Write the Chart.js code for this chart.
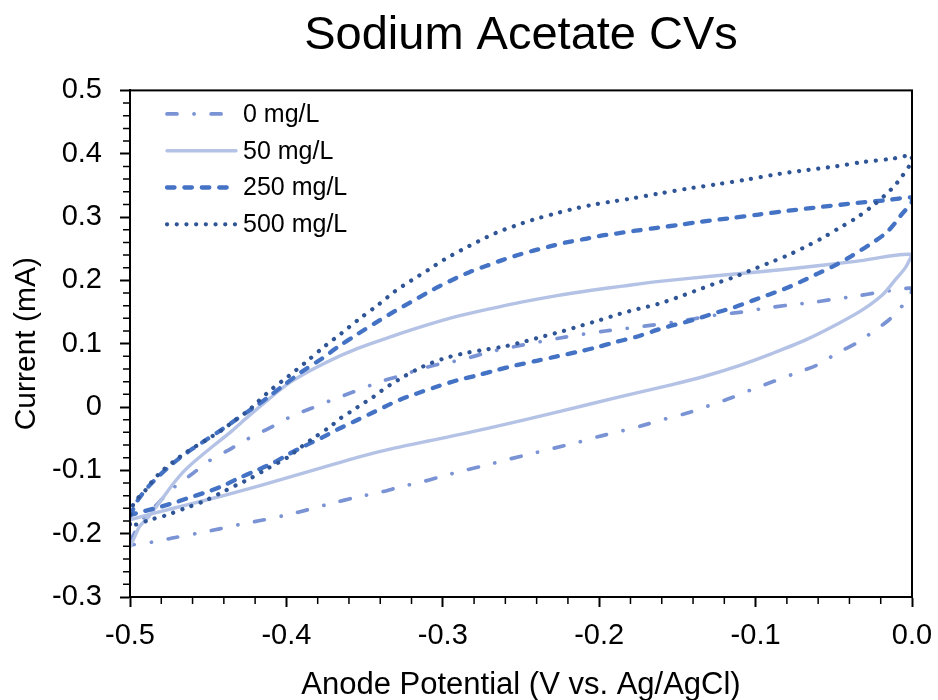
<!DOCTYPE html>
<html>
<head>
<meta charset="utf-8">
<title>Sodium Acetate CVs</title>
<script src="https://cdn.jsdelivr.net/npm/chart.js@4.4.1/dist/chart.umd.min.js"></script>
<style>
  html, body { margin: 0; padding: 0; background: #fff; }
  #wrap { width: 938px; height: 700px; }
</style>
</head>
<body>
<div id="wrap"><canvas id="cv" width="938" height="700"></canvas></div>
<script>
// Each loop: forward sweep -0.5 V -> 0 V, then the return sweep back to -0.5 V
const seriesNames = ['0 mg/L', '50 mg/L', '250 mg/L', '500 mg/L'];

// 0 mg/L
const potential0 = [
  -0.500, -0.495, -0.490, -0.484, -0.475, -0.469, -0.461, -0.450, -0.437, -0.426,
  -0.418, -0.409, -0.397, -0.384, -0.371, -0.357, -0.340, -0.329, -0.319, -0.310,
  -0.300, -0.293, -0.283, -0.270, -0.255, -0.238, -0.225, -0.210, -0.196, -0.152,
  -0.126, -0.109, -0.094, -0.079, -0.064, -0.051, -0.036, -0.019, -0.007, 0.000,
  -0.002, -0.009, -0.015, -0.024, -0.034, -0.048, -0.060, -0.075, -0.088, -0.103,
  -0.115, -0.130, -0.143, -0.158, -0.172, -0.186, -0.201, -0.214, -0.229, -0.242,
  -0.257, -0.271, -0.286, -0.300, -0.313, -0.327, -0.339, -0.356, -0.371, -0.386,
  -0.399, -0.414, -0.429, -0.442, -0.456, -0.471, -0.485, -0.500
];
const current0 = [
  -0.212, -0.190, -0.172, -0.157, -0.134, -0.121, -0.107, -0.086, -0.068, -0.052,
  -0.042, -0.031, -0.015, -0.002, 0.011, 0.024, 0.040, 0.048, 0.056, 0.063,
  0.069, 0.072, 0.078, 0.087, 0.095, 0.103, 0.109, 0.115, 0.120, 0.134,
  0.145, 0.150, 0.156, 0.161, 0.165, 0.170, 0.175, 0.182, 0.186, 0.187,
  0.171, 0.153, 0.137, 0.121, 0.103, 0.085, 0.067, 0.053, 0.041, 0.027,
  0.015, 0.002, -0.009, -0.019, -0.029, -0.038, -0.047, -0.056, -0.065, -0.073,
  -0.082, -0.091, -0.100, -0.109, -0.118, -0.126, -0.134, -0.143, -0.152, -0.162,
  -0.170, -0.178, -0.185, -0.192, -0.199, -0.206, -0.213, -0.218
];

// 50 mg/L
const potential50 = [
  -0.500, -0.497, -0.494, -0.489, -0.484, -0.478, -0.472, -0.465, -0.456, -0.446,
  -0.435, -0.424, -0.412, -0.397, -0.375, -0.354, -0.332, -0.312, -0.291, -0.270,
  -0.249, -0.227, -0.206, -0.185, -0.163, -0.122, -0.079, -0.036, 0.000,
  -0.004, -0.011, -0.019, -0.032, -0.047, -0.068, -0.090, -0.111, -0.132, -0.154,
  -0.187, -0.227, -0.270, -0.302, -0.331, -0.354, -0.375, -0.397, -0.418,
  -0.439, -0.461, -0.482, -0.500
];
const current50 = [
  -0.221, -0.205, -0.189, -0.176, -0.160, -0.140, -0.120, -0.100, -0.080, -0.060,
  -0.038, -0.014, 0.011, 0.040, 0.070, 0.093, 0.112, 0.128, 0.143, 0.155,
  0.166, 0.176, 0.184, 0.191, 0.198, 0.208, 0.218, 0.230, 0.241,
  0.221, 0.200, 0.177, 0.153, 0.132, 0.106, 0.084, 0.065, 0.049, 0.035,
  0.016, -0.008, -0.033, -0.050, -0.065, -0.079, -0.094, -0.110, -0.125,
  -0.139, -0.153, -0.166, -0.178
];

// 250 mg/L
const potential250 = [
  -0.500, -0.495, -0.488, -0.482, -0.473, -0.463, -0.452, -0.441, -0.430, -0.421,
  -0.412, -0.403, -0.390, -0.377, -0.367, -0.354, -0.341, -0.331, -0.321, -0.311,
  -0.302, -0.292, -0.283, -0.272, -0.262, -0.252, -0.242, -0.231, -0.221, -0.210,
  -0.200, -0.189, -0.178, -0.163, -0.148, -0.137, -0.117, -0.098, -0.079, -0.058,
  -0.036, -0.015, 0.000,
  0.000, -0.007, -0.011, -0.017, -0.028, -0.039, -0.049, -0.060, -0.071, -0.081,
  -0.092, -0.102, -0.113, -0.124, -0.134, -0.145, -0.156, -0.164, -0.176, -0.189,
  -0.202, -0.214, -0.227, -0.240, -0.253, -0.266, -0.278, -0.291, -0.304, -0.317,
  -0.327, -0.335, -0.345, -0.356, -0.367, -0.377, -0.388, -0.399, -0.409, -0.420,
  -0.431, -0.441, -0.452, -0.463, -0.473, -0.484, -0.495, -0.500
];
const current250 = [
  -0.172, -0.147, -0.125, -0.110, -0.090, -0.071, -0.053, -0.035, -0.016, -0.001,
  0.015, 0.032, 0.056, 0.077, 0.095, 0.116, 0.136, 0.151, 0.165, 0.179,
  0.191, 0.203, 0.213, 0.223, 0.232, 0.240, 0.247, 0.254, 0.260, 0.265,
  0.270, 0.274, 0.278, 0.283, 0.288, 0.292, 0.298, 0.304, 0.310, 0.316,
  0.322, 0.327, 0.331,
  0.324, 0.303, 0.290, 0.274, 0.255, 0.238, 0.224, 0.211, 0.198, 0.187,
  0.177, 0.168, 0.158, 0.150, 0.142, 0.134, 0.127, 0.121, 0.111, 0.103,
  0.094, 0.087, 0.080, 0.073, 0.066, 0.058, 0.050, 0.042, 0.032, 0.021,
  0.012, 0.003, -0.009, -0.022, -0.035, -0.048, -0.061, -0.075, -0.089, -0.101,
  -0.113, -0.125, -0.135, -0.144, -0.152, -0.160, -0.167, -0.171
];

// 500 mg/L
const potential500 = [
  -0.500, -0.499, -0.495, -0.490, -0.486, -0.480, -0.471, -0.465, -0.458, -0.450,
  -0.441, -0.433, -0.424, -0.418, -0.409, -0.399, -0.388, -0.375, -0.365, -0.354,
  -0.341, -0.331, -0.320, -0.309, -0.299, -0.288, -0.277, -0.266, -0.254, -0.242,
  -0.229, -0.218, -0.205, -0.193, -0.180, -0.162, -0.143, -0.124, -0.106, -0.088,
  -0.068, -0.049, -0.031, -0.013, 0.000,
  -0.001, -0.008, -0.012, -0.017, -0.026, -0.036, -0.047, -0.058, -0.069, -0.080,
  -0.092, -0.104, -0.115, -0.127, -0.139, -0.150, -0.162, -0.175, -0.187, -0.200,
  -0.211, -0.223, -0.235, -0.247, -0.260, -0.272, -0.284, -0.296, -0.308, -0.316,
  -0.325, -0.333, -0.339, -0.345, -0.352, -0.358, -0.365, -0.372, -0.382, -0.390,
  -0.399, -0.412, -0.424, -0.431, -0.439, -0.453, -0.465, -0.477, -0.487,
  -0.500
];
const current500 = [
  -0.185, -0.160, -0.144, -0.131, -0.118, -0.102, -0.084, -0.073, -0.062, -0.050,
  -0.036, -0.021, -0.005, 0.009, 0.029, 0.048, 0.070, 0.097, 0.116, 0.138,
  0.162, 0.182, 0.200, 0.217, 0.233, 0.248, 0.262, 0.275, 0.286, 0.296,
  0.305, 0.312, 0.319, 0.324, 0.329, 0.337, 0.345, 0.352, 0.359, 0.367,
  0.374, 0.380, 0.387, 0.392, 0.397,
  0.384, 0.359, 0.347, 0.335, 0.316, 0.298, 0.282, 0.266, 0.252, 0.239,
  0.227, 0.215, 0.204, 0.194, 0.183, 0.173, 0.163, 0.155, 0.147, 0.137,
  0.129, 0.120, 0.112, 0.104, 0.096, 0.091, 0.086, 0.079, 0.069, 0.060,
  0.048, 0.036, 0.026, 0.015, 0.004, -0.006, -0.017, -0.031, -0.048, -0.062,
  -0.079, -0.097, -0.114, -0.122, -0.132, -0.149, -0.160, -0.171, -0.178,
  -0.189
];

const xTicks = [-0.5, -0.4, -0.3, -0.2, -0.1, 0.0];
const xTickLabels = ['-0.5', '-0.4', '-0.3', '-0.2', '-0.1', '0.0'];
const yTicks = [-0.3, -0.2, -0.1, 0, 0.1, 0.2, 0.3, 0.4, 0.5];
const yTickLabels = ['-0.3', '-0.2', '-0.1', '0', '0.1', '0.2', '0.3', '0.4', '0.5'];

function toPoints(xs, ys) {
  return xs.map((x, k) => ({ x: x, y: ys[k] }));
}

Chart.defaults.font.family = "'Liberation Sans', Arial, sans-serif";
Chart.defaults.color = '#000';

// minor ticks, box frame and the in-plot legend
const axisExtras = {
  id: 'axisExtras',
  afterDatasetsDraw(chart) {
    const { ctx, chartArea: a, scales } = chart;
    const sx = scales.x, sy = scales.y;
    ctx.save();

    ctx.strokeStyle = '#000';
    ctx.lineWidth = 1.5;
    ctx.beginPath();
    for (let k = 1; k < 25; k++) {
      if (k % 5 === 0) continue;
      const px = sx.getPixelForValue(-0.5 + k * 0.02);
      ctx.moveTo(px, a.bottom);
      ctx.lineTo(px, a.bottom + 7);
    }
    for (let k = 1; k < 40; k++) {
      if (k % 5 === 0) continue;
      const py = sy.getPixelForValue(-0.3 + k * 0.02);
      ctx.moveTo(a.left, py);
      ctx.lineTo(a.left - 7, py);
    }
    ctx.stroke();

    ctx.lineWidth = 2;
    ctx.strokeRect(a.left, a.top, a.right - a.left, a.bottom - a.top);

    ctx.font = "25px 'Liberation Sans', Arial, sans-serif";
    ctx.textBaseline = 'middle';
    ctx.textAlign = 'left';
    chart.data.datasets.forEach((ds, i) => {
      const y = a.top + 23.5 + i * 36.8;
      ctx.strokeStyle = ds.borderColor;
      ctx.lineWidth = ds.borderWidth;
      ctx.lineCap = ds.borderCapStyle;
      ctx.setLineDash(ds.borderDash || []);
      ctx.beginPath();
      ctx.moveTo(a.left + 37, y);
      ctx.lineTo(a.left + 106, y);
      ctx.stroke();
      ctx.setLineDash([]);
      ctx.fillStyle = '#000';
      ctx.fillText(ds.label, a.left + 113, y + 1);
    });
    ctx.restore();
  }
};

const lineBase = {
  showLine: true,
  fill: false,
  pointRadius: 0,
  pointHoverRadius: 0,
  tension: 0.3,
  borderJoinStyle: 'round',
  borderCapStyle: 'round'
};

new Chart(document.getElementById('cv'), {
  type: 'scatter',
  data: {
    datasets: [
      Object.assign({}, lineBase, {
        label: seriesNames[0],
        data: toPoints(potential0, current0),
        borderColor: '#7A93D4',
        borderWidth: 3.7,
        borderDash: [10, 17, 0.1, 17],
        order: 3
      }),
      Object.assign({}, lineBase, {
        label: seriesNames[1],
        data: toPoints(potential50, current50),
        borderColor: '#B4C2E5',
        borderWidth: 3.4,
        order: 2
      }),
      Object.assign({}, lineBase, {
        label: seriesNames[2],
        data: toPoints(potential250, current250),
        borderColor: '#4472C4',
        borderWidth: 4.3,
        borderDash: [7.5, 9.9],
        order: 1
      }),
      Object.assign({}, lineBase, {
        label: seriesNames[3],
        data: toPoints(potential500, current500),
        borderColor: '#2F5597',
        borderWidth: 4.2,
        borderDash: [0.1, 9.6],
        order: 0
      })
    ]
  },
  options: {
    responsive: false,
    animation: false,
    devicePixelRatio: 1,
    layout: { padding: { left: 0, right: 26, top: 0, bottom: 0 } },
    plugins: {
      legend: { display: false },
      tooltip: { enabled: false },
      title: {
        display: true,
        text: 'Sodium Acetate CVs',
        fullSize: false,
        color: '#000',
        font: { size: 47, weight: 'normal' },
        padding: { top: 8, bottom: 26 }
      }
    },
    scales: {
      x: {
        type: 'linear',
        min: -0.5,
        max: 0,
        afterBuildTicks: (s) => { s.ticks = xTicks.map(v => ({ value: v })); },
        afterFit: (s) => {
          s.height = 103;
          s.paddingLeft = 0;
          s.paddingRight = 0;
        },
        ticks: {
          autoSkip: false,
          maxRotation: 0,
          padding: 12,
          font: { size: 29 },
          color: '#000',
          callback: (v, i) => xTickLabels[i]
        },
        grid: { drawOnChartArea: false, tickLength: 10, tickWidth: 2, tickColor: '#000', color: '#000' },
        border: { display: true, color: '#000', width: 2 },
        title: {
          display: true,
          text: 'Anode Potential (V vs. Ag/AgCl)',
          color: '#000',
          font: { size: 31, lineHeight: 1 },
          padding: { top: 0, bottom: -1 }
        }
      },
      y: {
        type: 'linear',
        min: -0.3,
        max: 0.5,
        afterBuildTicks: (s) => { s.ticks = yTicks.map(v => ({ value: v })); },
        afterFit: (s) => {
          s.width = 130;
          s.paddingTop = 0;
          s.paddingBottom = 0;
        },
        ticks: {
          autoSkip: false,
          padding: 18,
          font: { size: 29 },
          color: '#000',
          callback: (v, i) => yTickLabels[i]
        },
        grid: { drawOnChartArea: false, tickLength: 10, tickWidth: 2, tickColor: '#000', color: '#000' },
        border: { display: true, color: '#000', width: 2 },
        title: {
          display: true,
          text: 'Current (mA)',
          color: '#000',
          font: { size: 30 },
          padding: { top: 9, bottom: 0 }
        }
      }
    }
  },
  plugins: [axisExtras]
});
</script>
</body>
</html>
